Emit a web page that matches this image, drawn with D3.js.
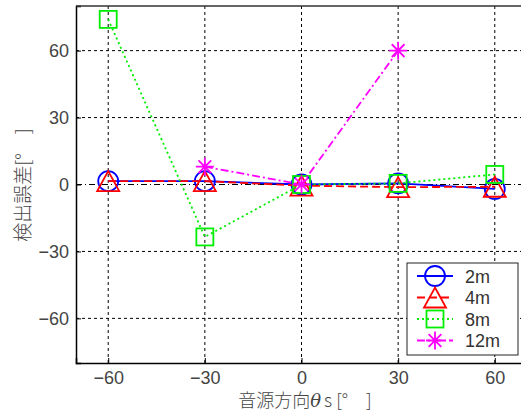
<!DOCTYPE html>
<html>
<head>
<meta charset="utf-8">
<script src="https://cdn.jsdelivr.net/npm/d3@7"></script>
<style>
  body { margin: 0; background: #fff; }
  svg { display: block; font-family: "Liberation Sans", Arial, sans-serif; }
</style>
</head>
<body>
<svg id="chart"></svg>
<script>
const angles = [-60, -30, 0, 30, 60];
const err2m = [1.5, 1.5, 0, 0.5, -2];
const err4m = [1.5, 1.5, -0.5, -1.2, -1];
const err8m = [74, -23.5, 0, 0.5, 4.5];
const err12m = [null, 8, 0, 60, null];
const seriesNames = ["2m", "4m", "8m", "12m"];
const xTicks = [-60, -30, 0, 30, 60];
const yTicks = [-60, -30, 0, 30, 60];

const width = 521;
const height = 414;
const plotLeft = 76, plotRight = 527, plotTop = 6, plotBottom = 363;

const svg = d3.select("#chart").attr("width", width).attr("height", height);

const xScale = d3.scaleLinear().domain([-70, 70]).range([plotLeft, plotRight]);
const yScale = d3.scaleLinear().domain([-80, 80]).range([plotBottom, plotTop]);

const series = [
  { name: seriesNames[0], values: err2m, color: "#0000ff", dash: null, marker: "circle" },
  { name: seriesNames[1], values: err4m, color: "#ff0000", dash: "8,4", marker: "triangle" },
  { name: seriesNames[2], values: err8m, color: "#00ee00", dash: "2,3", marker: "square" },
  { name: seriesNames[3], values: err12m, color: "#ff00ff", dash: "8,3,2,3", marker: "star" }
];

// grid
svg.append("g").selectAll("line")
  .data(xTicks).enter().append("line")
  .attr("x1", d => xScale(d)).attr("x2", d => xScale(d))
  .attr("y1", plotTop).attr("y2", plotBottom)
  .attr("stroke", "#000").attr("stroke-width", 1).attr("stroke-dasharray", "3,3");

svg.append("g").selectAll("line")
  .data(yTicks.filter(d => d !== 0)).enter().append("line")
  .attr("x1", plotLeft).attr("x2", plotRight)
  .attr("y1", d => yScale(d)).attr("y2", d => yScale(d))
  .attr("stroke", "#000").attr("stroke-width", 1).attr("stroke-dasharray", "3,3");

// zero line
svg.append("line")
  .attr("x1", plotLeft).attr("x2", plotRight)
  .attr("y1", yScale(0)).attr("y2", yScale(0))
  .attr("stroke", "#000").attr("stroke-width", 1).attr("stroke-dasharray", "6,3,1,3");

// axes
const xAxis = d3.axisBottom(xScale).tickValues(xTicks).tickSize(-5).tickPadding(8)
  .tickFormat(d => d < 0 ? "\u2212" + Math.abs(d) : d);
const yAxis = d3.axisLeft(yScale).tickValues(yTicks).tickSize(-5).tickPadding(7)
  .tickFormat(d => d < 0 ? "\u2212" + Math.abs(d) : d);

const gx = svg.append("g").attr("transform", "translate(0," + plotBottom + ")").call(xAxis);
const gy = svg.append("g").attr("transform", "translate(" + plotLeft + ",0)").call(yAxis);
[gx, gy].forEach(g => {
  g.select(".domain").attr("stroke", "#000").attr("stroke-width", 1.5);
  g.selectAll(".tick line").attr("stroke", "#000");
  g.selectAll("text").attr("font-size", 18).attr("fill", "#444");
});

svg.append("line")
  .attr("x1", plotLeft).attr("x2", plotRight).attr("y1", plotTop).attr("y2", plotTop)
  .attr("stroke", "#333").attr("stroke-width", 1.5);

// lines
const line = d3.line()
  .defined(d => d[1] !== null)
  .x(d => xScale(d[0]))
  .y(d => yScale(d[1]));

const drawMarker = (g, type, color) => {
  if (type === "circle") {
    g.append("circle").attr("r", 10).attr("fill", "none").attr("stroke", color).attr("stroke-width", 1.8);
  } else if (type === "triangle") {
    g.append("path").attr("d", "M0,-10 L11,10 L-11,10 Z").attr("fill", "none").attr("stroke", color).attr("stroke-width", 1.8);
  } else if (type === "square") {
    g.append("rect").attr("x", -8.5).attr("y", -8.5).attr("width", 17).attr("height", 17)
      .attr("fill", "none").attr("stroke", color).attr("stroke-width", 1.8);
  } else {
    const r = 9;
    const d = [0, 45, 90, 135].map(a => {
      const t = a * Math.PI / 180;
      return "M" + (-r * Math.cos(t)) + "," + (-r * Math.sin(t)) + "L" + (r * Math.cos(t)) + "," + (r * Math.sin(t));
    }).join("");
    g.append("path").attr("d", d).attr("stroke", color).attr("stroke-width", 1.8);
  }
};

series.forEach(s => {
  const pts = angles.map((a, i) => [a, s.values[i]]);
  svg.append("path")
    .datum(pts)
    .attr("d", line)
    .attr("fill", "none")
    .attr("stroke", s.color)
    .attr("stroke-width", 1.8)
    .attr("stroke-dasharray", s.dash);
  svg.append("g").selectAll("g")
    .data(pts.filter(p => p[1] !== null)).enter().append("g")
    .attr("transform", p => "translate(" + xScale(p[0]) + "," + yScale(p[1]) + ")")
    .each(function () { drawMarker(d3.select(this), s.marker, s.color); });
});

// legend
const legend = svg.append("g").attr("transform", "translate(407,263)");
legend.append("rect").attr("width", 111).attr("height", 92)
  .attr("fill", "#fff").attr("stroke", "#222").attr("stroke-width", 1);
series.forEach((s, i) => {
  const ly = 13 + i * 21.5;
  legend.append("line").attr("x1", 10).attr("x2", 46).attr("y1", ly).attr("y2", ly)
    .attr("stroke", s.color).attr("stroke-width", 1.8).attr("stroke-dasharray", s.dash);
  const mg = legend.append("g").attr("transform", "translate(28," + ly + ")");
  drawMarker(mg, s.marker, s.color);
  legend.append("text").attr("x", 58).attr("y", ly + 6.5)
    .attr("font-size", 18).attr("fill", "#333").text(s.name);
});

// axis labels
svg.append("text")
  .attr("transform", "translate(30,185) rotate(-90)")
  .attr("text-anchor", "middle").attr("font-size", 19).attr("fill", "#444")
  .attr("font-family", "Noto Sans CJK JP").attr("font-weight", 300)
  .text("検出誤差[°\u3000]");

const xl = svg.append("text")
  .attr("x", 305).attr("y", 407)
  .attr("text-anchor", "middle").attr("font-size", 18).attr("fill", "#444")
  .attr("font-family", "Noto Sans CJK JP").attr("font-weight", 300);
xl.append("tspan").text("音源方向");
xl.append("tspan").attr("font-style", "italic").attr("font-family", "DejaVu Serif").attr("font-size", 18).text("θ");
xl.append("tspan").attr("dx", 3).text("s [°\u3000]");
</script>
</body>
</html>
